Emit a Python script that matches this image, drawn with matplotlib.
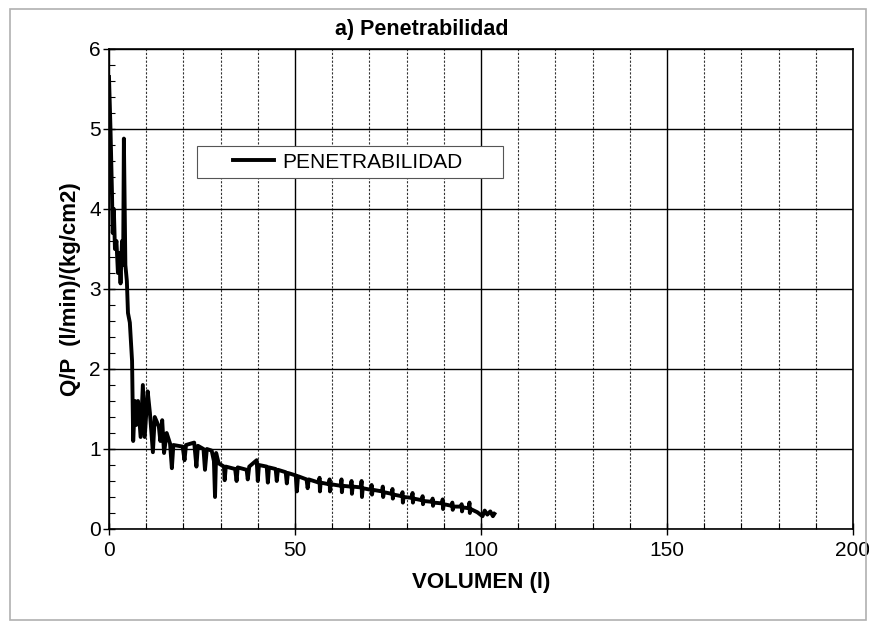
import matplotlib
matplotlib.use('Agg')
import matplotlib.pyplot as plt
from matplotlib.patches import Rectangle
from matplotlib.ticker import MultipleLocator

# Datos (volumen en l, Q/P)
volumen = [0.0, 0.4, 0.8, 1.0, 1.3, 1.6, 2.0, 2.4, 2.8, 3.1, 3.5, 3.8, 4.0, 4.4,
           4.8, 5.1, 5.6, 6.2, 6.5, 7.0, 7.3, 7.8, 8.5, 9.1, 9.6, 10.4, 11.0,
           11.8, 12.3, 13.4, 13.8, 14.3, 14.8, 15.5,
           16.4, 16.9, 17.3, 19.8, 20.3, 20.7, 22.9, 23.5, 23.9, 25.4, 25.8,
           26.3, 27.6, 28.2, 28.5, 28.8, 29.5, 30.9, 31.1, 31.4, 33.9, 34.3,
           34.6, 37.0, 37.3, 37.7, 39.7, 40.0, 40.3, 42.4, 42.7, 43.0, 44.8,
           45.1, 45.4, 47.5, 47.8, 48.1, 50.2, 50.5, 50.8, 53.1, 53.4, 53.7,
           56.4, 56.6, 56.7, 56.9, 59.1, 59.3, 59.4, 59.6, 62.3, 62.5, 62.6, 62.8,
           65.0, 65.2, 65.3, 65.5, 67.7, 67.9, 68.0, 68.2, 70.4, 70.6, 70.7, 70.9,
           73.4, 73.6, 73.7, 73.9, 76.0, 76.2, 76.3, 76.5, 78.7, 78.9, 79.0, 79.2,
           81.4, 81.6, 81.7, 81.9, 84.1, 84.3, 84.4, 84.6, 86.8, 87.0, 87.1, 87.3,
           89.5, 89.7, 89.8, 90.0, 92.1, 92.3, 92.4, 92.6, 94.6, 94.8, 94.9, 95.1,
           96.7, 96.9, 97.0, 97.2, 99.0, 100.4, 101.0, 101.7, 102.5, 103.2, 103.6]
qp = [5.65, 5.0, 4.2, 3.7, 4.0, 3.5, 3.6, 3.2, 3.45, 3.07, 3.6, 3.3, 4.88, 3.3,
      3.1, 2.7, 2.58, 2.1, 1.1, 1.6, 1.3, 1.6, 1.15, 1.8, 1.15, 1.72, 1.45,
      0.96, 1.4, 1.28, 1.1, 1.36, 0.95, 1.2,
      1.07, 0.76, 1.05, 1.03, 0.86, 1.05, 1.08, 0.78, 1.04, 1.0, 0.74,
      1.0, 0.98, 0.85, 0.4, 0.95, 0.82, 0.78, 0.61, 0.78, 0.75, 0.6,
      0.77, 0.74, 0.62, 0.78, 0.86, 0.6, 0.8, 0.78, 0.58, 0.77, 0.75,
      0.6, 0.74, 0.71, 0.57, 0.7, 0.67, 0.47, 0.66, 0.62, 0.51, 0.62,
      0.58, 0.64, 0.47, 0.58, 0.56, 0.62, 0.47, 0.56, 0.54, 0.62, 0.46, 0.54,
      0.53, 0.6, 0.44, 0.53, 0.52, 0.6, 0.40, 0.51, 0.49, 0.55, 0.43, 0.49,
      0.47, 0.53, 0.40, 0.46, 0.44, 0.5, 0.38, 0.43, 0.41, 0.46, 0.33, 0.40,
      0.39, 0.45, 0.33, 0.38, 0.36, 0.41, 0.31, 0.35, 0.34, 0.38, 0.29, 0.33,
      0.32, 0.37, 0.25, 0.31, 0.29, 0.33, 0.24, 0.28, 0.28, 0.31, 0.22, 0.27,
      0.26, 0.33, 0.2, 0.25, 0.21, 0.16, 0.23, 0.18, 0.22, 0.16, 0.19]

plt.rcParams['font.family'] = ['Liberation Sans', 'DejaVu Sans']

fig = plt.figure(figsize=(8.69, 6.28), dpi=100)
ax = fig.add_axes([109 / 869, 1 - 529 / 628, 744 / 869, 480 / 628])

# marco exterior
fig.patches.append(Rectangle((10 / 869, 1 - 620 / 628), 856 / 869, 611 / 628,
                             transform=fig.transFigure, fill=False,
                             edgecolor='#b0b0b0', linewidth=1.2))

ax.plot(volumen, qp, color='black', linewidth=2.8, label='PENETRABILIDAD')

ax.set_xlim(0, 200)
ax.set_ylim(0, 6)
ax.xaxis.set_major_locator(MultipleLocator(50))
ax.xaxis.set_minor_locator(MultipleLocator(10))
ax.yaxis.set_major_locator(MultipleLocator(1))
ax.yaxis.set_minor_locator(MultipleLocator(0.2))

ax.grid(which='major', color='black', linewidth=1.0)
ax.grid(which='minor', axis='x', color='#333333', linewidth=0.8, linestyle=(0, (2, 1.5)))
ax.tick_params(which='major', direction='inout', length=8, width=1, labelsize=15)
ax.tick_params(which='minor', direction='in', length=4, width=0.8)
ax.tick_params(axis='x', pad=5)
ax.tick_params(axis='y', pad=2)
for s in ax.spines.values():
    s.set_linewidth(1.2)

ax.set_title('a) Penetrabilidad', fontsize=15.5, fontweight='bold', x=0.42, pad=10)
ax.set_xlabel('VOLUMEN (l)', fontsize=16, fontweight='bold', labelpad=8)
ax.set_ylabel('Q/P  (l/min)/(kg/cm2)', fontsize=16, fontweight='bold', labelpad=6)

# caja de la leyenda (mas ancha que su contenido, como en el original)
ax.add_patch(Rectangle((0.118, 0.731), 0.411, 0.067, transform=ax.transAxes,
                       facecolor='white', edgecolor='#555555', linewidth=0.8,
                       zorder=4))
leg = ax.legend(loc='center left', bbox_to_anchor=(0.166, 0.7645), frameon=False,
                fontsize=15, handlelength=2.0, handletextpad=0.4,
                borderpad=0, borderaxespad=0)
leg.set_zorder(5)

fig.savefig('out.png', dpi=100)
